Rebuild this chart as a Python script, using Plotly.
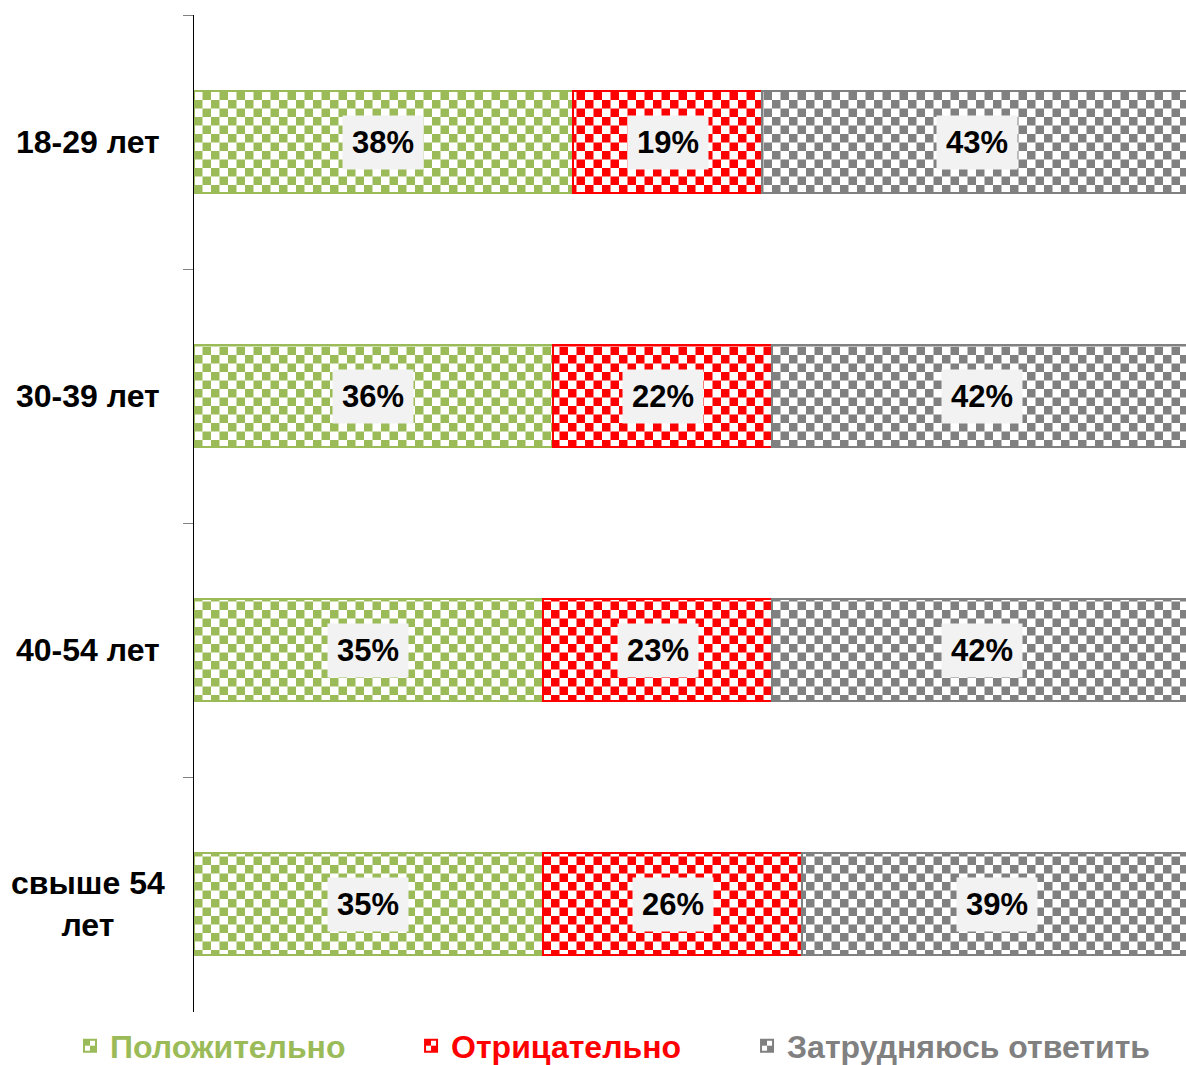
import plotly.graph_objects as go

# --- data ---
categories = ["18-29 лет", "30-39 лет", "40-54 лет", "свыше 54<br>лет"]
series_names = ["Положительно", "Отрицательно", "Затрудняюсь ответить"]
positive = [38, 36, 35, 35]
negative = [19, 22, 23, 26]
undecided = [43, 42, 42, 39]

colors = ["#9bbb59", "#ff0000", "#808080"]
legend_ids = ["legend", "legend2", "legend3"]
legend_x = [-0.125, 0.2188, 0.5575]
font_family = "Liberation Sans, Arial, sans-serif"

ypos = list(range(len(categories)))
values = [positive, negative, undecided]

fig = go.Figure()
for name, vals, col, lg in zip(series_names, values, colors, legend_ids):
    fig.add_trace(go.Bar(
        y=ypos,
        x=vals,
        orientation="h",
        width=0.405,
        name="<span style='color:%s'>%s</span>" % (col, name),
        legend=lg,
        showlegend=True,
        marker=dict(
            color=col,
            line=dict(color=col, width=2),
            pattern=dict(shape="+", size=17, solidity=0.5,
                         fgcolor=col, bgcolor="white", fillmode="replace"),
        ),
        hoverinfo="skip",
    ))

# data labels centred on each segment
annotations = []
for i in ypos:
    left = 0
    for vals in values:
        v = vals[i]
        annotations.append(dict(
            x=left + v / 2, y=i, xref="x", yref="y",
            text="%d%%" % v, showarrow=False,
            font=dict(family=font_family, size=31, color="black", weight="bold"),
            bgcolor="#f2f2f2", borderpad=9,
        ))
        left += v

# category labels
for i, cat in enumerate(categories):
    annotations.append(dict(
        x=-0.1065, y=i, xref="paper", yref="y",
        text=cat, showarrow=False, xanchor="center", align="center",
        font=dict(family=font_family, size=32, color="black", weight="bold"),
    ))

legend_style = dict(
    orientation="h", xanchor="left", y=-0.034, yanchor="middle",
    font=dict(family=font_family, size=32, weight="bold"),
    bgcolor="rgba(0,0,0,0)",
)

fig.update_layout(
    width=1186, height=1065,
    margin=dict(l=194, r=0, t=15, b=53, autoexpand=False),
    paper_bgcolor="white", plot_bgcolor="white",
    barmode="stack",
    showlegend=True,
    font=dict(family=font_family),
    xaxis=dict(range=[0, 99.5], visible=False, showgrid=False, zeroline=False),
    yaxis=dict(
        range=[3.425, -0.5],
        tickvals=[-0.5, 0.5, 1.5, 2.5], ticktext=["", "", "", ""],
        ticks="outside", ticklen=10, tickcolor="#808080", tickwidth=1,
        showline=True, linecolor="black", linewidth=1,
        showgrid=False, zeroline=False,
    ),
    legend=dict(x=legend_x[0], **legend_style),
    legend2=dict(x=legend_x[1], **legend_style),
    legend3=dict(x=legend_x[2], **legend_style),
    annotations=annotations,
)

# plotly has no checkerboard pattern: swap the generated tiles for one
post_script = """
document.body.style.margin = '0';
var gd = document.getElementById('{plot_id}');
function checker() {
  gd.querySelectorAll('pattern').forEach(function(p) {
    if (p.getAttribute('data-checker')) return;
    var fg = p.querySelector('path');
    var col = fg ? fg.getAttribute('stroke') : '#000';
    var c = 8.5;
    var ns = 'http://www.w3.org/2000/svg';
    while (p.firstChild) p.removeChild(p.firstChild);
    p.setAttribute('width', (2 * c) + 'px');
    p.setAttribute('height', (2 * c) + 'px');
    var r = [[0, 0, 2 * c, 'white'], [0, 0, c, col], [c, c, c, col]];
    r.forEach(function(a) {
      var e = document.createElementNS(ns, 'rect');
      e.setAttribute('x', a[0]); e.setAttribute('y', a[1]);
      e.setAttribute('width', a[2]); e.setAttribute('height', a[2]);
      e.setAttribute('fill', a[3]);
      p.appendChild(e);
    });
    p.setAttribute('data-checker', '1');
  });
  gd.querySelectorAll('path.legendbar').forEach(function(p) {
    p.setAttribute('transform', 'scale(1.3)');
  });
}
checker();
gd.on('plotly_afterplot', checker);
"""

fig.write_html("out.html", post_script=post_script,
               config={"displayModeBar": False})
